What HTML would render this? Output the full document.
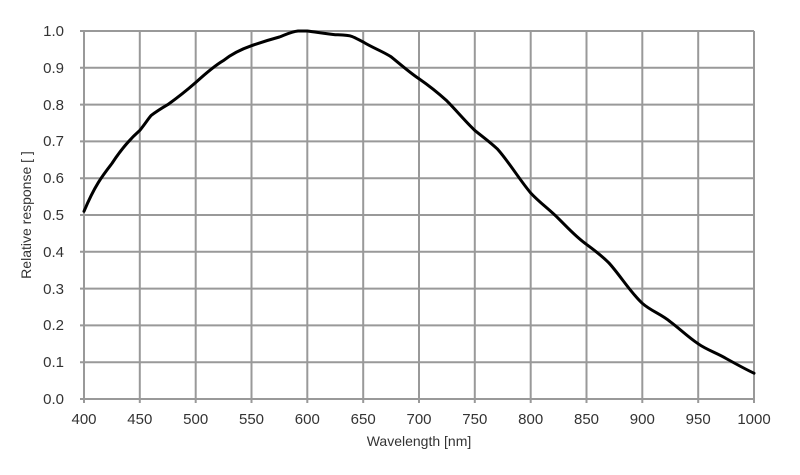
<!DOCTYPE html>
<html><head><meta charset="utf-8"><style>
html,body{margin:0;padding:0;background:#fff;}
svg text{font-family:"Liberation Sans",Arial,sans-serif;fill:#333;}
</style></head><body>
<svg width="800" height="470" viewBox="0 0 800 470" xmlns="http://www.w3.org/2000/svg">
<g stroke="#999" stroke-width="2" fill="none">
<path d="M80 31H754M80 67.8H754M80 104.6H754M80 141.4H754M80 178.2H754M80 215H754M80 251.8H754M80 288.6H754M80 325.4H754M80 362.2H754M80 399H754"/>
<path d="M84 31V403M139.8 31V403M195.7 31V403M251.5 31V403M307.3 31V403M363.2 31V403M419 31V403M474.8 31V403M530.7 31V403M586.5 31V403M642.3 31V403M698.2 31V403M754 31V403"/>
</g>
<path fill="none" stroke="#000" stroke-width="3" stroke-linejoin="round" stroke-linecap="round" d="M84 211.3 C95 185 103 175 111.9 163.5 C120 151 130 139 139.8 130.4 C145 124 148 119 151 115.6 C157 111 162 108 167.8 104.6 C177 98 186 91 195.7 82.5 C205 74 214 66 223.6 60.4 C233 53 242 49 251.5 45.7 C262 42 272 39 279.4 37 C287 34 292 31.5 298 31 L307.3 31 C316 32 326 34 335.3 34.7 C343 35 348 35 352 36.5 C356 38 359 40 363.2 42 C373 48 382 51 391.1 56.8 C400 64 409 72 419 78.8 C428 85 437 92 446.9 100.9 C456 110 465 121 474.8 130.4 C483 137 490 142 497.2 148.8 C509 162 519 179 530.7 193 C540 203 549 209 558.6 218.7 C568 228 576 237 586.5 244.4 C594 250 601 255 608.8 262.8 C620 275 630 292 642.3 303.3 C651 311 661 314 670.2 321.7 C680 329 688 337 698.2 343.8 C707 350 717 353 726.1 358.5 C736 364 745 369 754 373.2"/>
<g font-size="15" text-anchor="end">
<text x="64" y="36">1.0</text><text x="64" y="73">0.9</text><text x="64" y="110">0.8</text><text x="64" y="146">0.7</text><text x="64" y="183">0.6</text><text x="64" y="220">0.5</text><text x="64" y="257">0.4</text><text x="64" y="294">0.3</text><text x="64" y="330">0.2</text><text x="64" y="367">0.1</text><text x="64" y="404">0.0</text>
</g>
<g font-size="15" text-anchor="middle">
<text x="84" y="424">400</text><text x="139.8" y="424">450</text><text x="195.7" y="424">500</text><text x="251.5" y="424">550</text><text x="307.3" y="424">600</text><text x="363.2" y="424">650</text><text x="419" y="424">700</text><text x="474.8" y="424">750</text><text x="530.7" y="424">800</text><text x="586.5" y="424">850</text><text x="642.3" y="424">900</text><text x="698.2" y="424">950</text><text x="754" y="424">1000</text>
<text x="419" y="446" font-size="14">Wavelength [nm]</text>
<text transform="translate(31 215) rotate(-90)" font-size="14">Relative response [ ]</text>
</g>
</svg>
</body></html>
